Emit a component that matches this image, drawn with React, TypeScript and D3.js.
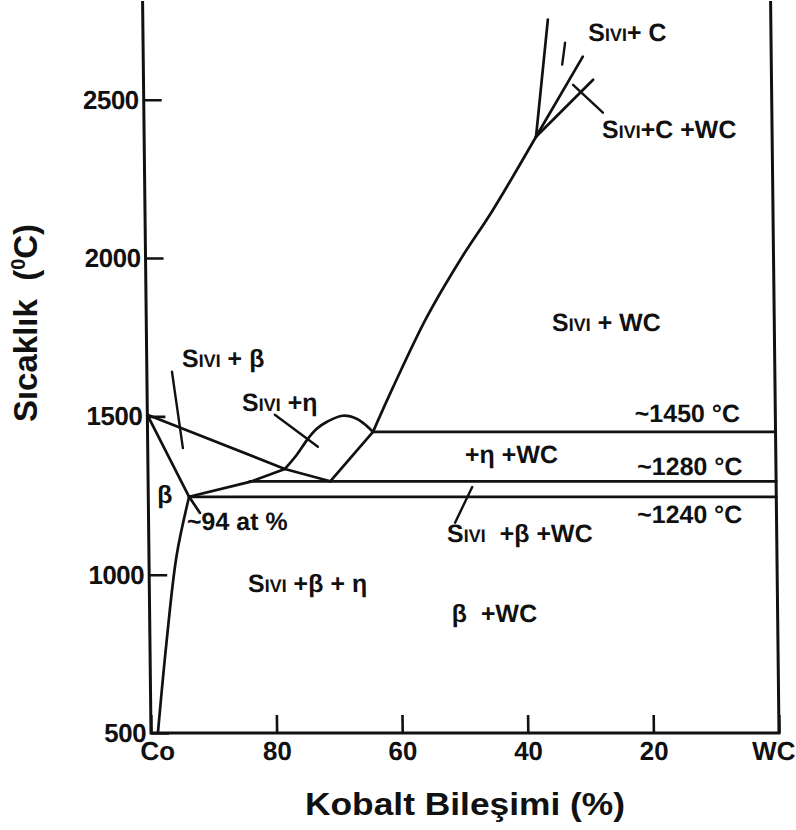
import React, { useEffect, useRef } from 'react';
import * as d3 from 'd3';

type Pt = [number, number];

// axis ticks (Co content, %) and temperatures (°C)
const xTicks = [100, 80, 60, 40, 20, 0];
const yTicks = [500, 1000, 1500, 2000, 2500];

// phase boundaries: [Co %, °C]
const betaLiquidus: Pt[] = [[100, 1505], [78.2, 1334], [71.0, 1295]];
const betaSolidus: Pt[] = [[100, 1505], [93.5, 1246], [91.8, 1195]];
const betaSolvus: Pt[] = [[93.5, 1246], [95.6, 1060], [97.4, 780], [98.9, 500]];
const eutecticLiquidus: Pt[] = [[93.5, 1246], [83.8, 1293], [78.2, 1334]];
const etaLiquidus: Pt[] = [
  [78.2, 1334], [76.3, 1378], [74.6, 1426], [73.1, 1460], [71.4, 1483],
  [68.9, 1502], [66.6, 1492], [65.1, 1470], [64.1, 1451],
];
const etaBoundary: Pt[] = [[71.0, 1295], [64.1, 1451]];
const wcLiquidus: Pt[] = [
  [64.1, 1451], [60.8, 1593], [55.3, 1814], [49.9, 1994],
  [44.6, 2152], [37.6, 2383],
];
const graphiteLines: Pt[][] = [
  [[37.6, 2383], [35.5, 2753]],
  [[37.6, 2383], [30.0, 2636]],
  [[37.6, 2383], [28.4, 2563]],
];
// horizontal invariant lines: temperature, starting composition
const isoTemps = [1451, 1295, 1246];
const isoStarts = [64.1, 83.8, 93.5];

// pointer lines for the labels
const leaders: Pt[][] = [
  [[96.0, 1641], [94.4, 1400]],
  [[79.7, 1505], [72.9, 1404]],
  [[48.4, 1277], [51.2, 1164]],
  [[31.6, 2547], [26.9, 2459]],
  [[32.8, 2680], [33.3, 2611]],
];

// region labels: [prefix in small caps, rest], anchored at [Co %, °C]
const labelTexts: [string, string][] = [
  ['Sıvı', '+ C'],
  ['Sıvı', '+C +WC'],
  ['Sıvı', ' + WC'],
  ['Sıvı', ' + β'],
  ['Sıvı', ' +η'],
  ['', '+η +WC'],
  ['', '~1450 °C'],
  ['', '~1280 °C'],
  ['', '~1240 °C'],
  ['Sıvı', '  +β +WC'],
  ['', 'β'],
  ['', '~94 at %'],
  ['Sıvı', ' +β + η'],
  ['', 'β  +WC'],
];
const labelAnchors: Pt[] = [
  [29.1, 2686], [27.1, 2380], [35.4, 1770], [94.4, 1656], [84.9, 1517],
  [49.5, 1353], [22.4, 1483], [22.1, 1315], [22.2, 1163], [52.5, 1103],
  [98.6, 1227], [93.9, 1141], [84.3, 945], [51.9, 851],
];

const FONT = '"Liberation Sans", Arial, Helvetica, sans-serif';

export default function App() {
  const svgRef = useRef<SVGSVGElement>(null);

  useEffect(() => {
    const W = 796, H = 830;
    const svg = d3.select(svgRef.current);
    svg.selectAll('*').remove();
    svg.attr('width', W).attr('height', H);
    svg.append('rect').attr('width', W).attr('height', H).attr('fill', '#fff');

    const x = d3.scaleLinear().domain([100, 0]).range([151, 779]);
    const y = d3.scaleLinear().domain([500, 2815]).range([733, 0]);

    // the scanned figure leans slightly: top edge sits a few px left of the bottom
    const shear = 0.0115;
    const g = svg.append('g')
      .attr('transform', `translate(${-shear * y(500)},0) skewX(${(Math.atan(shear) * 180) / Math.PI})`);

    const ink = '#111';
    const line = d3.line<Pt>().x(d => x(d[0])).y(d => y(d[1]));
    const smooth = d3.line<Pt>().x(d => x(d[0])).y(d => y(d[1])).curve(d3.curveCatmullRom.alpha(0.5));

    // frame
    const yTop = y(2812);
    g.append('path')
      .attr('d', `M${x(100)},${yTop}V${y(500)}H${x(0)}V${yTop}`)
      .attr('fill', 'none').attr('stroke', ink).attr('stroke-width', 3);

    // axes
    const yAxis = g.append('g')
      .attr('transform', `translate(${x(100)},0)`)
      .call(d3.axisLeft(y).tickValues(yTicks).tickSizeInner(-18).tickSizeOuter(0).tickPadding(5).tickFormat(d3.format('d')));
    yAxis.select('.domain').remove();
    yAxis.attr('font-size', 26).attr('font-family', FONT).attr('font-weight', 'bold');
    yAxis.selectAll('line').attr('stroke', ink).attr('stroke-width', 2.6);
    yAxis.selectAll('text').attr('fill', ink).attr('letter-spacing', -0.5);

    const xAxis = g.append('g')
      .attr('transform', `translate(0,${y(500)})`)
      .call(d3.axisBottom(x).tickValues(xTicks).tickSizeInner(-18).tickSizeOuter(0).tickPadding(9)
        .tickFormat(d => (d === 100 ? 'Co' : d === 0 ? 'WC' : String(d))));
    xAxis.select('.domain').remove();
    xAxis.attr('font-size', 26).attr('font-family', FONT).attr('font-weight', 'bold');
    xAxis.selectAll('line').attr('stroke', ink).attr('stroke-width', 2.6);
    xAxis.selectAll('text').attr('fill', ink)
      .attr('dx', (d: any) => (d === 100 ? 6 : d === 0 ? -6 : 0));

    // phase boundaries
    const bounds = g.append('g').attr('fill', 'none').attr('stroke', ink)
      .attr('stroke-width', 2.7).attr('stroke-linejoin', 'round').attr('stroke-linecap', 'round');
    [betaLiquidus, betaSolidus, eutecticLiquidus, etaBoundary, ...graphiteLines]
      .forEach(p => bounds.append('path').attr('d', line(p)));
    [betaSolvus, etaLiquidus, wcLiquidus].forEach(p => bounds.append('path').attr('d', smooth(p)));

    bounds.selectAll('.iso')
      .data(isoTemps)
      .enter()
      .append('path')
      .attr('class', 'iso')
      .attr('d', (t, i) => line([[isoStarts[i], t], [0, t]]));

    const lead = g.append('g').attr('fill', 'none').attr('stroke', ink)
      .attr('stroke-width', 2.4).attr('stroke-linecap', 'round');
    leaders.forEach(p => lead.append('path').attr('d', line(p)));

    // region labels
    const labels = g.append('g').attr('font-family', FONT).attr('font-weight', 'bold')
      .attr('font-size', 25).attr('fill', ink);
    labelTexts.forEach(([pre, rest], i) => {
      const t = labels.append('text')
        .attr('x', x(labelAnchors[i][0]))
        .attr('y', y(labelAnchors[i][1]))
        .attr('xml:space', 'preserve')
        .style('white-space', 'pre');
      if (pre) t.append('tspan').style('font-variant', 'small-caps').text(pre);
      t.append('tspan').text(rest);
    });

    // axis titles
    const yt = svg.append('text')
      .attr('transform', 'translate(37,323) rotate(-90)')
      .attr('text-anchor', 'middle')
      .attr('font-family', FONT).attr('font-weight', 'bold').attr('font-size', 33).attr('fill', ink)
      .style('white-space', 'pre');
    yt.append('tspan').text('Sıcaklık  (');
    yt.append('tspan').attr('font-size', 20).attr('dy', -12).text('0');
    yt.append('tspan').attr('dy', 12).text('C)');

    svg.append('text')
      .attr('x', 465).attr('y', 815)
      .attr('text-anchor', 'middle')
      .attr('font-family', FONT).attr('font-weight', 'bold').attr('font-size', 32).attr('fill', ink)
      .attr('textLength', 320).attr('lengthAdjust', 'spacingAndGlyphs')
      .text('Kobalt Bileşimi (%)');
  }, []);

  return <svg ref={svgRef} style={{ display: 'block', position: 'absolute', left: 0, top: 0 }} />;
}
